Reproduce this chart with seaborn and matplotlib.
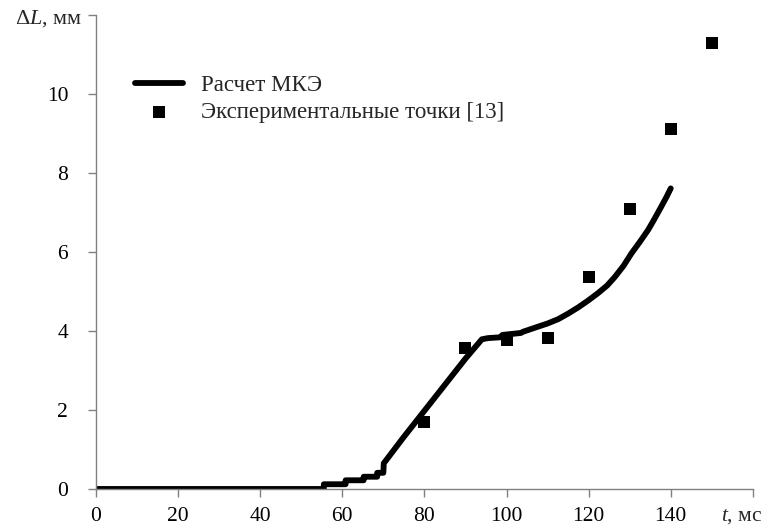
import matplotlib
matplotlib.use("Agg")
import matplotlib.pyplot as plt
import seaborn as sns
import pandas as pd

# FEM calculation curve (t, ms ; dL, mm)
t_fem = [0, 55.5, 55.5, 60.8, 60.8, 65.2, 65.2, 68.5, 68.5, 70.0, 70.1, 75, 80, 85, 90,
         94, 95.5, 98.5, 99, 103.5, 104, 107.7, 110, 112.6, 115, 117.5, 120, 122.3, 124.5,
         126.4, 128.5, 130.4, 132.5, 134.5, 136.0, 137.7, 139.0, 140.0]
L_fem = [0, 0, 0.12, 0.12, 0.22, 0.22, 0.31, 0.31, 0.41, 0.41, 0.65, 1.32, 1.98, 2.64, 3.3,
         3.79, 3.82, 3.84, 3.9, 3.95, 3.98, 4.11, 4.19, 4.30, 4.44, 4.60, 4.78, 4.96, 5.15,
         5.37, 5.65, 5.96, 6.26, 6.56, 6.83, 7.15, 7.40, 7.61]

# Experimental points [13]
t_exp = [80, 90, 100, 110, 120, 130, 140, 150]
L_exp = [1.70, 3.56, 3.77, 3.81, 5.37, 7.10, 9.11, 11.28]

x_ticks = [0, 20, 40, 60, 80, 100, 120, 140, 160]
x_labels = ["0", "20", "40", "60", "80", "100", "120", "140", ""]
y_ticks = [0, 2, 4, 6, 8, 10, 12]
y_labels = ["0", "2", "4", "6", "8", "10", ""]

sns.set_theme(style="white")
plt.rcParams["font.family"] = ["Liberation Serif", "DejaVu Serif"]
plt.rcParams["mathtext.fontset"] = "custom"
plt.rcParams["mathtext.rm"] = "Liberation Serif"
plt.rcParams["mathtext.it"] = "Liberation Serif:italic"

fig = plt.figure(figsize=(7.69, 5.28), dpi=100)
ax = fig.add_axes([0.1248, 0.0739, 0.979 - 0.1248, 0.9716 - 0.0739])

df_fem = pd.DataFrame({"t": t_fem, "L": L_fem})
df_exp = pd.DataFrame({"t": t_exp, "L": L_exp})

sns.lineplot(data=df_fem, x="t", y="L", sort=False, ax=ax, color="black",
             linewidth=4.2, label="Расчет МКЭ", estimator=None,
             solid_capstyle="round", solid_joinstyle="round")
sns.scatterplot(data=df_exp, x="t", y="L", ax=ax, marker="s", color="black",
                s=70, edgecolor="black", linewidth=0, label="Экспериментальные точки [13]", zorder=3)

ax.set_xlim(0, 160)
ax.set_ylim(0, 12)
ax.set_xticks(x_ticks)
ax.set_xticklabels(x_labels)
ax.set_yticks(y_ticks)
ax.set_yticklabels(y_labels)
ax.set_xlabel("")
ax.set_ylabel("")

for side in ["top", "right"]:
    ax.spines[side].set_visible(False)
for side in ["left", "bottom"]:
    ax.spines[side].set_color("#808080")
    ax.spines[side].set_linewidth(1.0)

ax.tick_params(axis="both", which="major", direction="out", length=6, width=1,
               color="#808080", labelsize=15.5, labelcolor="black", left=True, bottom=True)
ax.tick_params(axis="x", pad=7)
ax.tick_params(axis="y", pad=14)

# axis name labels placed at the end ticks
fig.text(742 / 769, 1 - 517 / 528, r"$t$, мс", ha="center", va="center", fontsize=15.5)
fig.text(82 / 769, 1 - 19 / 528, r"$\Delta L$, мм", ha="right", va="center", fontsize=16)

leg = ax.legend(loc="upper left", bbox_to_anchor=(0.045, 0.893), frameon=False, fontsize=16.5,
                handlelength=2.1, handletextpad=0.8, labelspacing=0.25, markerscale=1.0,
                borderaxespad=0)

fig.savefig("out.png", dpi=100)
